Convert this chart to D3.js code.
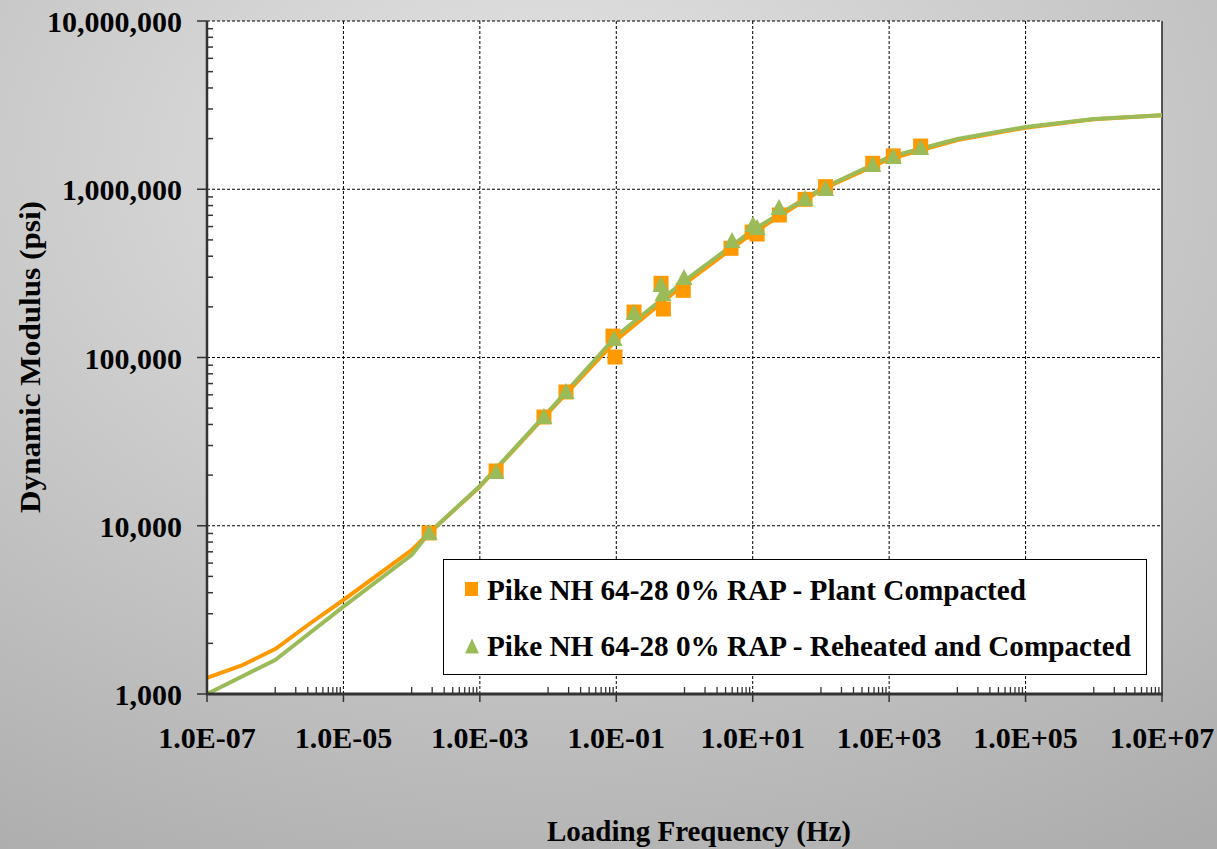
<!DOCTYPE html>
<html>
<head>
<meta charset="utf-8">
<script src="https://cdn.jsdelivr.net/npm/d3@7"></script>
<style>
  html, body { margin: 0; padding: 0; }
  svg { display: block; }
</style>
</head>
<body>
<svg id="chart" width="1217" height="849"></svg>
<script>
// Measured dynamic modulus, Pike NH 64-28 0% RAP
const plantFreq = [1.8e-4, 1.73e-3, 8.7e-3, 1.83e-2, 0.0895, 0.0957, 0.182, 0.453, 0.49, 0.96, 4.81, 9.8, 11.6, 24.6, 58.5, 117, 575, 1150, 2900];
const plantModulus = [9060, 21150, 44300, 62400, 134000, 100700, 186300, 276000, 194200, 250700, 445700, 557000, 542000, 703000, 871000, 1036000, 1426000, 1578000, 1807000];

const reheatFreq = [1.8e-4, 1.73e-3, 8.7e-3, 1.83e-2, 0.0927, 0.182, 0.453, 0.484, 0.984, 4.98, 10.1, 11.6, 24.3, 58.5, 117, 575, 1150, 2900];
const reheatModulus = [9180, 21150, 44900, 63200, 130600, 186300, 273500, 241700, 301000, 499400, 621000, 596500, 784000, 887000, 1017000, 1413000, 1578000, 1783000];

// Fitted master curves
const plantFitFreq = [1e-7, 3.16e-7, 1e-6, 3.16e-6, 1e-5, 1e-4, 1.8e-4, 1e-3, 1e-2, 1e-1, 1, 10, 100, 1e3, 1e4, 1e5, 1e6, 1e7];
const plantFitModulus = [1245, 1473, 1850, 2606, 3620, 7170, 9060, 17070, 46800, 127000, 273500, 549500, 990000, 1513000, 1963000, 2322000, 2605000, 2751000];

const reheatFitFreq = [1e-7, 1e-6, 1e-5, 1e-4, 1.8e-4, 1e-3, 1e-2, 1e-1, 1, 10, 100, 1e3, 1e4, 1e5, 1e6, 1e7];
const reheatFitModulus = [1000, 1593, 3303, 6700, 9060, 17230, 47500, 134200, 285000, 572000, 1003000, 1555000, 1990000, 2344000, 2616000, 2751000];

// Axis ticks
const xTickValues = [1e-7, 1e-5, 1e-3, 1e-1, 1e1, 1e3, 1e5, 1e7];
const xTickLabels = ["1.0E-07", "1.0E-05", "1.0E-03", "1.0E-01", "1.0E+01", "1.0E+03", "1.0E+05", "1.0E+07"];
const yTickValues = [1e3, 1e4, 1e5, 1e6, 1e7];
const yTickLabels = ["1,000", "10,000", "100,000", "1,000,000", "10,000,000"];

const seriesNames = ["Pike NH 64-28 0% RAP - Plant Compacted", "Pike NH 64-28 0% RAP - Reheated and Compacted"];
const xTitle = "Loading Frequency (Hz)";
const yTitle = "Dynamic Modulus (psi)";

const ORANGE = "#FF9900";
const GREEN = "#9BBB59";
const FONT = "'Liberation Serif', 'Times New Roman', serif";

const svg = d3.select("#chart");
const W = 1217, H = 849;
const plot = { left: 207, right: 1162, top: 21, bottom: 694 };

// Background
const defs = svg.append("defs");
const bg = defs.append("radialGradient").attr("id", "bg")
  .attr("cx", "45%").attr("cy", "20%").attr("r", "95%");
bg.append("stop").attr("offset", "0%").attr("stop-color", "#e6e6e6");
bg.append("stop").attr("offset", "100%").attr("stop-color", "#acacac");
svg.append("rect").attr("width", W).attr("height", H).attr("fill", "url(#bg)");

const x = d3.scaleLog().domain([1e-7, 1e7]).range([plot.left, plot.right]);
const y = d3.scaleLog().domain([1e3, 1e7]).range([plot.bottom, plot.top]);

svg.append("rect")
  .attr("x", plot.left).attr("y", plot.top)
  .attr("width", plot.right - plot.left).attr("height", plot.bottom - plot.top)
  .attr("fill", "#ffffff");

// Gridlines
const grid = svg.append("g").attr("stroke", "#000").attr("stroke-width", 1).attr("stroke-dasharray", "3,2");
xTickValues.slice(1, -1).forEach(v => {
  grid.append("line").attr("x1", x(v)).attr("x2", x(v)).attr("y1", plot.top).attr("y2", plot.bottom);
});
yTickValues.slice(1).forEach(v => {
  grid.append("line").attr("x1", plot.left).attr("x2", plot.right).attr("y1", y(v)).attr("y2", y(v));
});
svg.append("line").attr("x1", plot.right).attr("x2", plot.right).attr("y1", plot.top).attr("y2", plot.bottom)
  .attr("stroke", "#222").attr("stroke-width", 1.5);

// Fitted curves
const line = d3.line().x(d => x(d[0])).y(d => y(d[1]));
const clip = defs.append("clipPath").attr("id", "plotclip");
clip.append("rect").attr("x", plot.left).attr("y", plot.top - 2)
  .attr("width", plot.right - plot.left).attr("height", plot.bottom - plot.top + 2);

const curves = svg.append("g").attr("clip-path", "url(#plotclip)");
curves.append("path")
  .attr("d", line(d3.zip(plantFitFreq, plantFitModulus)))
  .attr("fill", "none").attr("stroke", ORANGE).attr("stroke-width", 4).attr("stroke-linejoin", "round");
curves.append("path")
  .attr("d", line(d3.zip(reheatFitFreq, reheatFitModulus)))
  .attr("fill", "none").attr("stroke", GREEN).attr("stroke-width", 4).attr("stroke-linejoin", "round");

// Markers
const SQ = 15;
const triPath = (w, h) => `M0,${-h / 2}L${w / 2},${h / 2}L${-w / 2},${h / 2}Z`;

svg.append("g").selectAll("rect")
  .data(d3.zip(plantFreq, plantModulus))
  .join("rect")
  .attr("x", d => x(d[0]) - SQ / 2).attr("y", d => y(d[1]) - SQ / 2)
  .attr("width", SQ).attr("height", SQ)
  .attr("fill", ORANGE);

svg.append("g").selectAll("path")
  .data(d3.zip(reheatFreq, reheatModulus))
  .join("path")
  .attr("transform", d => `translate(${x(d[0])},${y(d[1])})`)
  .attr("d", triPath(17, 16))
  .attr("fill", GREEN);

// Axes
const axes = svg.append("g");
// minor ticks on the y axis (inside)
const yMinor = [];
for (let e = 3; e < 7; e++) for (let k = 2; k <= 9; k++) yMinor.push(k * Math.pow(10, e));
yMinor.forEach(v => {
  axes.append("line").attr("x1", plot.left).attr("x2", plot.left + 6)
    .attr("y1", y(v)).attr("y2", y(v)).attr("stroke", "#333").attr("stroke-width", 1.5);
});
// major ticks on the y axis (outside)
yTickValues.forEach(v => {
  axes.append("line").attr("x1", plot.left - 10).attr("x2", plot.left)
    .attr("y1", y(v)).attr("y2", y(v)).attr("stroke", "#333").attr("stroke-width", 1.5);
});
// minor ticks on the x axis (inside)
const xMinor = [];
for (let e = -6; e <= 6; e += 2) for (let k = 1; k <= 9; k++) xMinor.push(k * Math.pow(10, e));
xMinor.forEach(v => {
  axes.append("line").attr("x1", x(v)).attr("x2", x(v))
    .attr("y1", plot.bottom - 7).attr("y2", plot.bottom).attr("stroke", "#333").attr("stroke-width", 1.3);
});
// major ticks on the x axis (outside)
xTickValues.forEach(v => {
  axes.append("line").attr("x1", x(v)).attr("x2", x(v))
    .attr("y1", plot.bottom).attr("y2", plot.bottom + 8).attr("stroke", "#333").attr("stroke-width", 1.5);
});
axes.append("line").attr("x1", plot.left).attr("x2", plot.left)
  .attr("y1", plot.top).attr("y2", plot.bottom + 1).attr("stroke", "#333").attr("stroke-width", 2.5);
axes.append("line").attr("x1", plot.left - 1).attr("x2", plot.right + 1)
  .attr("y1", plot.bottom).attr("y2", plot.bottom).attr("stroke", "#333").attr("stroke-width", 3);

// Tick labels
const labels = svg.append("g").attr("font-family", FONT).attr("font-weight", "bold").attr("fill", "#000");
yTickValues.forEach((v, i) => {
  labels.append("text").attr("x", 182).attr("y", y(v) + 11)
    .attr("text-anchor", "end").attr("font-size", 30).text(yTickLabels[i]);
});
xTickValues.forEach((v, i) => {
  labels.append("text").attr("x", x(v)).attr("y", 748)
    .attr("text-anchor", "middle").attr("font-size", 30).text(xTickLabels[i]);
});

// Axis titles
labels.append("text").attr("x", 699).attr("y", 841).attr("text-anchor", "middle")
  .attr("font-size", 29).attr("textLength", 304).attr("lengthAdjust", "spacingAndGlyphs").text(xTitle);
labels.append("text").attr("transform", "translate(40,357) rotate(-90)").attr("text-anchor", "middle")
  .attr("font-size", 29).attr("textLength", 312).attr("lengthAdjust", "spacingAndGlyphs").text(yTitle);

// Legend
const legend = svg.append("g");
legend.append("rect").attr("x", 443.5).attr("y", 559.5).attr("width", 703).attr("height", 115)
  .attr("fill", "#fff").attr("stroke", "#000").attr("stroke-width", 1);
legend.append("rect").attr("x", 465).attr("y", 582).attr("width", 13).attr("height", 14).attr("fill", ORANGE);
legend.append("path").attr("transform", "translate(472,646)").attr("d", triPath(14, 15)).attr("fill", GREEN);
legend.append("text").attr("x", 487).attr("y", 600)
  .attr("font-family", FONT).attr("font-weight", "bold").attr("font-size", 29)
  .attr("textLength", 539).attr("lengthAdjust", "spacingAndGlyphs").text(seriesNames[0]);
legend.append("text").attr("x", 487).attr("y", 656)
  .attr("font-family", FONT).attr("font-weight", "bold").attr("font-size", 29)
  .attr("textLength", 644).attr("lengthAdjust", "spacingAndGlyphs").text(seriesNames[1]);
</script>
</body>
</html>
